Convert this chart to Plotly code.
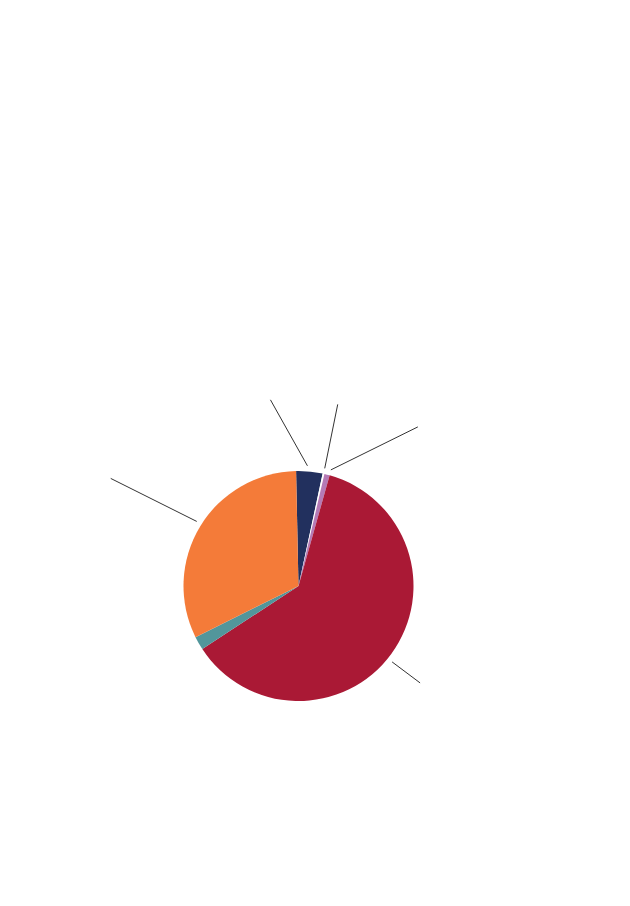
import math
import plotly.graph_objects as go

# ======== DATOS =========
labels = ["A", "B", "C", "D", "E", "F"]
values = [3.7, 0.25, 0.75, 61.4, 1.9, 32.0]          # % por sector
colors = ["#22305e", "#ffffff", "#b57ab5", "#aa1935", "#52969b", "#f47b39"]

# ======== ESTILO / GEOMETRÍA =========
W, H = 630, 906
PAGE_OFFSET = 8                      # margen del <body> en la página
CX, CY, R = 298.5 - PAGE_OFFSET, 586 - PAGE_OFFSET, 115   # centro y radio (px)
ROTATION = -1.2
# desplazamiento (px) del extremo exterior de cada línea guía; None = sin línea
leader_offsets = [(-37, -66), (13, -64), (87, -43), (28, 21), None, (-86, -43)]
# pequeño ajuste angular (grados) del punto de anclaje respecto al ángulo medio
leader_nudge = [-1.2, 0, 1.2, 2.8, 0, 1.2]

fig = go.Figure(go.Pie(
    labels=labels,
    values=values,
    sort=False,
    direction="clockwise",
    rotation=ROTATION,
    marker=dict(colors=colors, line=dict(width=0)),
    textinfo="none",
    hoverinfo="label+percent",
    domain=dict(x=[(CX - R) / W, (CX + R) / W],
                y=[1 - (CY + R) / H, 1 - (CY - R) / H]),
    showlegend=False,
))

# líneas guía calculadas desde el ángulo medio de cada sector
total = sum(values)
start = ROTATION
shapes = []
for v, off, nudge in zip(values, leader_offsets, leader_nudge):
    span = 360.0 * v / total
    mid = math.radians(start + span / 2 + nudge)
    start += span
    if off is None:
        continue
    x0 = CX + 1.048 * R * math.sin(mid)
    y0 = CY - 1.048 * R * math.cos(mid)
    x1, y1 = x0 + off[0], y0 + off[1]
    shapes.append(dict(type="line", xref="paper", yref="paper",
                       x0=x0 / W, y0=1 - y0 / H, x1=x1 / W, y1=1 - y1 / H,
                       line=dict(color="#333333", width=1)))

fig.update_layout(
    width=W, height=H,
    margin=dict(l=0, r=0, t=0, b=0),
    paper_bgcolor="white",
    plot_bgcolor="white",
    shapes=shapes,
)

fig.write_html("out.html")
